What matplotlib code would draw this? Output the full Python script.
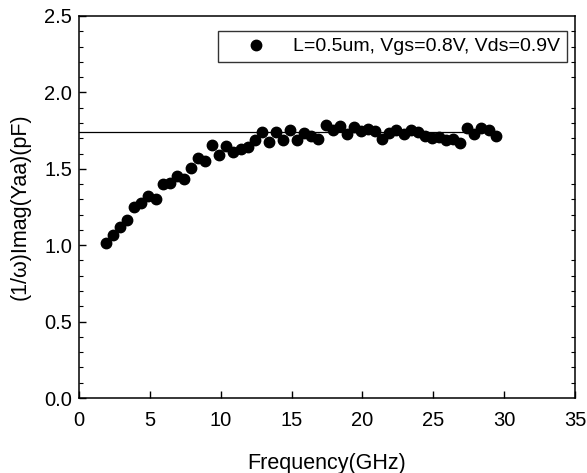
import matplotlib
matplotlib.use("Agg")
import matplotlib.pyplot as plt
from matplotlib.ticker import MultipleLocator

plt.rcParams['font.family'] = ['Liberation Sans', 'DejaVu Sans']

freq = [1.9, 2.4, 2.9, 3.4, 3.9, 4.4, 4.9, 5.4, 5.9, 6.4, 6.9, 7.4, 7.9,
        8.4, 8.9, 9.4, 9.9, 10.4, 10.9, 11.4, 11.9, 12.4, 12.9, 13.4, 13.9,
        14.4, 14.9, 15.4, 15.9, 16.4, 16.9, 17.4, 17.9, 18.4, 18.9, 19.4, 19.9, 20.4, 20.9,
        21.4, 21.9, 22.4, 22.9, 23.4, 23.9, 24.4, 24.9, 25.4, 25.9, 26.4, 26.9, 27.4, 27.9,
        28.4, 28.9, 29.4]
cap = [1.014, 1.068, 1.12, 1.162, 1.25, 1.275, 1.32, 1.304, 1.40, 1.407, 1.45, 1.435, 1.505,
       1.571, 1.549, 1.653, 1.592, 1.647, 1.61, 1.632, 1.643, 1.691, 1.739, 1.676, 1.739,
       1.686, 1.756, 1.691, 1.735, 1.717, 1.695, 1.789, 1.756, 1.782, 1.73, 1.774, 1.745, 1.761, 1.745,
       1.695, 1.735, 1.756, 1.73, 1.756, 1.739, 1.713, 1.701, 1.708, 1.691, 1.695, 1.669, 1.767, 1.73,
       1.767, 1.756, 1.712]
fit_x = [0, 27.3]
fit_y = [1.74, 1.74]

fig = plt.figure(figsize=(5.87, 4.73), dpi=100)
ax = fig.add_axes([79/587, 1-398/473, (575-79)/587, (398-16)/473])

ax.plot(fit_x, fit_y, color='black', lw=0.9, zorder=2)
ax.plot(freq, cap, 'o', color='black', markersize=7.5, zorder=3,
        label='L=0.5um, Vgs=0.8V, Vds=0.9V')

ax.set_xlim(0, 35)
ax.set_ylim(0, 2.5)
ax.xaxis.set_major_locator(MultipleLocator(5))
ax.yaxis.set_minor_locator(MultipleLocator(0.1))
ax.set_yticks([0, 0.5, 1.0, 1.5, 2.0, 2.5])
ax.set_yticklabels(['0.0', '0.5', '1.0', '1.5', '2.0', '2.5'])
ax.tick_params(axis='both', which='major', direction='in', length=5, width=1,
               labelsize=14.5, right=False, top=False)
ax.tick_params(axis='x', which='major', pad=9)
ax.tick_params(axis='y', which='major', pad=5)
ax.tick_params(axis='y', which='minor', direction='in', length=3, width=0.8, right=True)
for s in ax.spines.values():
    s.set_linewidth(1.1)

ax.set_xlabel('Frequency(GHz)', fontsize=15.5, labelpad=17)
ax.set_ylabel('(1/\u03c9)Imag(Yaa)(pF)', fontsize=15.5, labelpad=10)

leg = ax.legend(loc='upper right', bbox_to_anchor=((567-79)/496, (398-31)/382),
                fontsize=14, frameon=True, fancybox=False, edgecolor='black',
                handletextpad=0.3, borderpad=0.35, borderaxespad=0,
                handlelength=3.2, numpoints=1)
leg.get_frame().set_linewidth(1.0)

fig.savefig('out.png', dpi=100)
